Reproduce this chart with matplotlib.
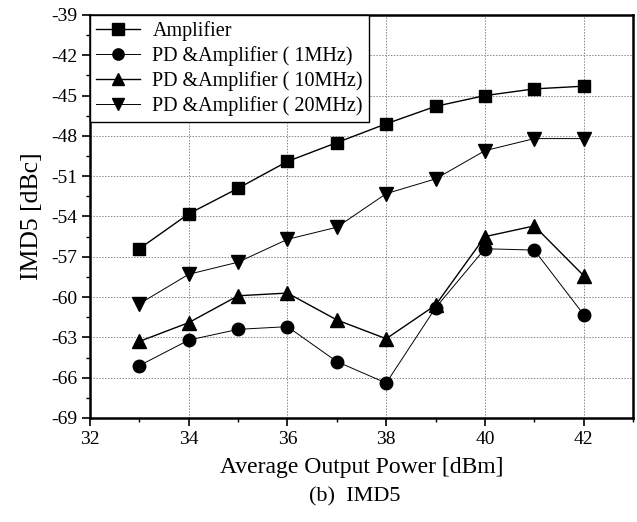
import matplotlib
matplotlib.use("Agg")
import matplotlib.pyplot as plt
from matplotlib.ticker import MultipleLocator

plt.rcParams['font.family'] = ['Liberation Serif', 'DejaVu Serif']
plt.rcParams['axes.unicode_minus'] = False

power = [33, 34, 35, 36, 37, 38, 39, 40, 41, 42]
amplifier = [-56.4, -53.8, -51.9, -49.9, -48.5, -47.1, -45.8, -45.0, -44.5, -44.3]
pd_1mhz = [-65.1, -63.2, -62.4, -62.2, -64.8, -66.4, -60.8, -56.4, -56.5, -61.3]
pd_10mhz = [-63.3, -61.9, -59.9, -59.7, -61.7, -63.1, -60.6, -55.5, -54.7, -58.4]
pd_20mhz = [-60.5, -58.3, -57.4, -55.7, -54.8, -52.3, -51.2, -49.1, -48.2, -48.2]

labels = ["Amplifier", "PD &Amplifier ( 1MHz)",
          "PD &Amplifier ( 10MHz)", "PD &Amplifier ( 20MHz)"]
series = [amplifier, pd_1mhz, pd_10mhz, pd_20mhz]
markers = ["s", "o", "^", "v"]
msizes = [9, 9, 10, 10]
lws = [1.0, 0.7, 1.0, 0.7]

fig = plt.figure(figsize=(6.37, 5.22), dpi=100)
ax = fig.add_axes([90 / 637, 104 / 522, 543 / 637, 403 / 522])

for y, lab, m, ms, lw in zip(series, labels, markers, msizes, lws):
    ax.plot(power, y, color="black", lw=lw, marker=m, markersize=ms,
            markerfacecolor="black", markeredgecolor="black", label=lab)

ax.set_xlim(32, 43)
ax.set_ylim(-69, -39)
ax.xaxis.set_major_locator(MultipleLocator(2))
ax.xaxis.set_minor_locator(MultipleLocator(1))
ax.yaxis.set_major_locator(MultipleLocator(3))
ax.yaxis.set_minor_locator(MultipleLocator(1.5))
ax.set_xticks([32, 34, 36, 38, 40, 42])

ax.grid(True, which="major", color="#888888", linestyle=(0, (1.5, 1.5)), lw=0.7)
for s in ax.spines.values():
    s.set_linewidth(1.8)

ax.tick_params(which="major", direction="out", length=6, width=1.2,
               labelsize=14, pad=3)
ax.tick_params(which="minor", direction="out", length=3, width=1.0)

ax.set_xlabel("Average Output Power [dBm]", fontsize=17, labelpad=7)
ax.set_ylabel("IMD5 [dBc]", fontsize=18.5)
ax.yaxis.set_label_coords(-0.087, 0.50)

leg = ax.legend(loc="upper left", fontsize=14.5, frameon=True, fancybox=False,
                edgecolor="black", borderaxespad=0, handlelength=2.2,
                handletextpad=0.6, labelspacing=0.25, borderpad=0.3,
                framealpha=1, markerscale=0.9)
leg.get_frame().set_linewidth(1.0)

fig.text(355 / 637, 1 - 497 / 522, "(b)  IMD5", fontsize=16,
         ha="center", va="center")

fig.savefig("out.png", dpi=100)
